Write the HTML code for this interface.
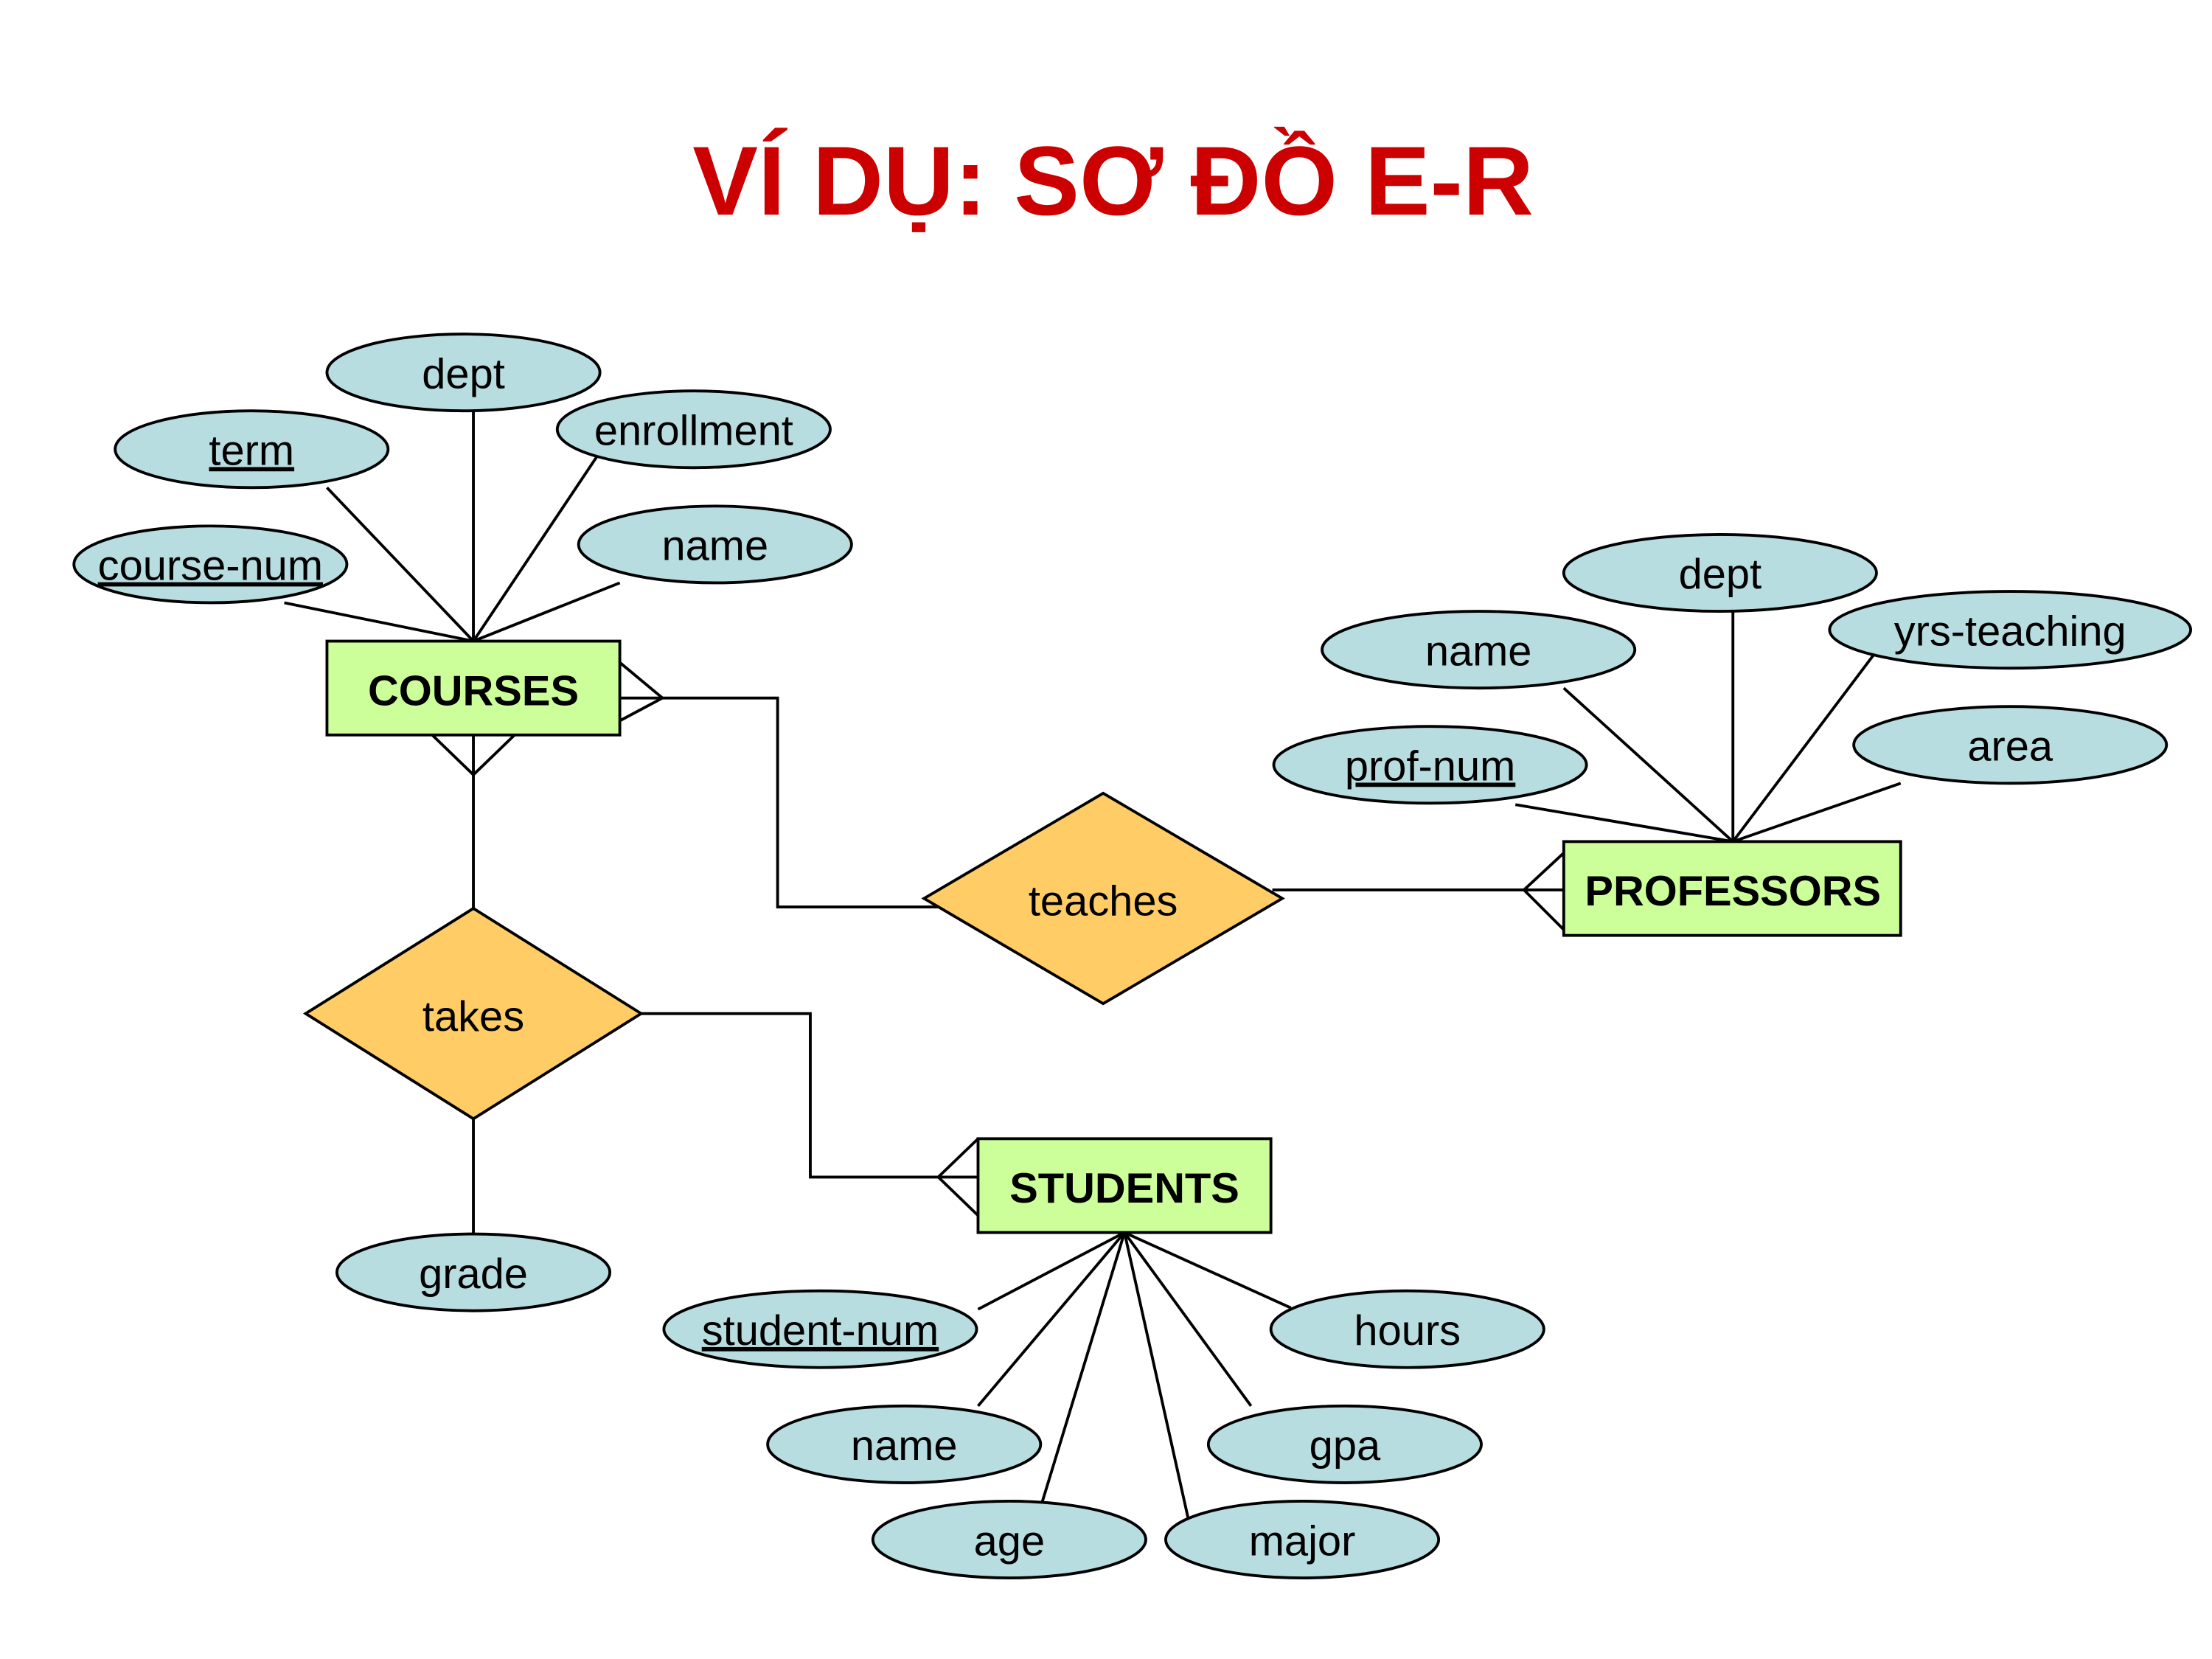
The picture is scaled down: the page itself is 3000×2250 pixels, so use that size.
<!DOCTYPE html>
<html><head><meta charset="utf-8"><style>
html,body{margin:0;padding:0;background:#fff;}
svg{display:block;}
text{font-family:"Liberation Sans",sans-serif;}
</style></head><body>
<svg width="3000" height="2250" viewBox="0 0 1556 1167" xmlns="http://www.w3.org/2000/svg">
<rect width="1556" height="1167" fill="#fff"/>
<text x="783" y="151" text-anchor="middle" font-size="69" font-weight="bold" fill="#cc0000">VÍ DỤ: SƠ ĐỒ E-R</text>
<g stroke="#000" stroke-width="2" fill="none">
<line x1="333" y1="289" x2="333" y2="451"/>
<line x1="230" y1="343" x2="333" y2="451"/>
<line x1="422" y1="318" x2="333" y2="451"/>
<line x1="200" y1="424" x2="333" y2="451"/>
<line x1="436" y1="410" x2="333" y2="451"/>
<line x1="1219" y1="430" x2="1219" y2="592"/>
<line x1="1100" y1="484" x2="1219" y2="592"/>
<line x1="1320" y1="458" x2="1219" y2="592"/>
<line x1="1066" y1="566" x2="1219" y2="592"/>
<line x1="1337" y1="551" x2="1219" y2="592"/>
<line x1="688" y1="921" x2="791" y2="867"/>
<line x1="908" y1="920" x2="791" y2="867"/>
<line x1="688" y1="989" x2="791" y2="867"/>
<line x1="880" y1="989" x2="791" y2="867"/>
<line x1="733" y1="1057" x2="791" y2="867"/>
<line x1="836" y1="1069" x2="791" y2="867"/>
<polyline points="436,491 547,491 547,638 660,638"/>
<polyline points="436,466 466,491 436,507"/>
<polyline points="304,517 333,545 362,517"/>
<line x1="333" y1="517" x2="333" y2="639"/>
<line x1="895" y1="626" x2="1100" y2="626"/>
<polyline points="1100,600 1072,626 1100,654"/>
<polyline points="451,713 570,713 570,828 688,828"/>
<polyline points="688,801 660,828 688,855"/>
<line x1="333" y1="787" x2="333" y2="868"/>
</g>
<g stroke="#000" stroke-width="2">
<rect x="230" y="451" width="206" height="66" fill="#ccff99"/>
<rect x="1100" y="592" width="237" height="66" fill="#ccff99"/>
<rect x="688" y="801" width="206" height="66" fill="#ccff99"/>
<polygon points="650,632 776,558 902,632 776,706" fill="#ffcc66"/>
<polygon points="215,713 333,639 451,713 333,787" fill="#ffcc66"/>
<g fill="#b8dde0">
<ellipse cx="326" cy="262" rx="96" ry="27"/>
<ellipse cx="177" cy="316" rx="96" ry="27"/>
<ellipse cx="488" cy="302" rx="96" ry="27"/>
<ellipse cx="148" cy="397" rx="96" ry="27"/>
<ellipse cx="503" cy="383" rx="96" ry="27"/>
<ellipse cx="1210" cy="403" rx="110" ry="27"/>
<ellipse cx="1040" cy="457" rx="110" ry="27"/>
<ellipse cx="1414" cy="443" rx="127" ry="27"/>
<ellipse cx="1006" cy="538" rx="110" ry="27"/>
<ellipse cx="1414" cy="524" rx="110" ry="27"/>
<ellipse cx="333" cy="895" rx="96" ry="27"/>
<ellipse cx="577" cy="935" rx="110" ry="27"/>
<ellipse cx="990" cy="935" rx="96" ry="27"/>
<ellipse cx="636" cy="1016" rx="96" ry="27"/>
<ellipse cx="946" cy="1016" rx="96" ry="27"/>
<ellipse cx="710" cy="1083" rx="96" ry="27"/>
<ellipse cx="916" cy="1083" rx="96" ry="27"/>
</g>
</g>
<g font-size="30" text-anchor="middle" fill="#000">
<text x="326" y="273">dept</text>
<text x="177" y="327" text-decoration="underline">term</text>
<text x="488" y="313">enrollment</text>
<text x="148" y="408" text-decoration="underline">course-num</text>
<text x="503" y="394">name</text>
<text x="1210" y="414">dept</text>
<text x="1040" y="468">name</text>
<text x="1414" y="454">yrs-teaching</text>
<text x="1006" y="549" text-decoration="underline">prof-num</text>
<text x="1414" y="535">area</text>
<text x="333" y="906">grade</text>
<text x="577" y="946" text-decoration="underline">student-num</text>
<text x="990" y="946">hours</text>
<text x="636" y="1027">name</text>
<text x="946" y="1027">gpa</text>
<text x="710" y="1094">age</text>
<text x="916" y="1094">major</text>
<text x="776" y="644">teaches</text>
<text x="333" y="725">takes</text>
</g>
<g font-size="30" font-weight="bold" text-anchor="middle" fill="#000">
<text x="333" y="496">COURSES</text>
<text x="1219" y="637">PROFESSORS</text>
<text x="791" y="846">STUDENTS</text>
</g>
</svg>
</body></html>
